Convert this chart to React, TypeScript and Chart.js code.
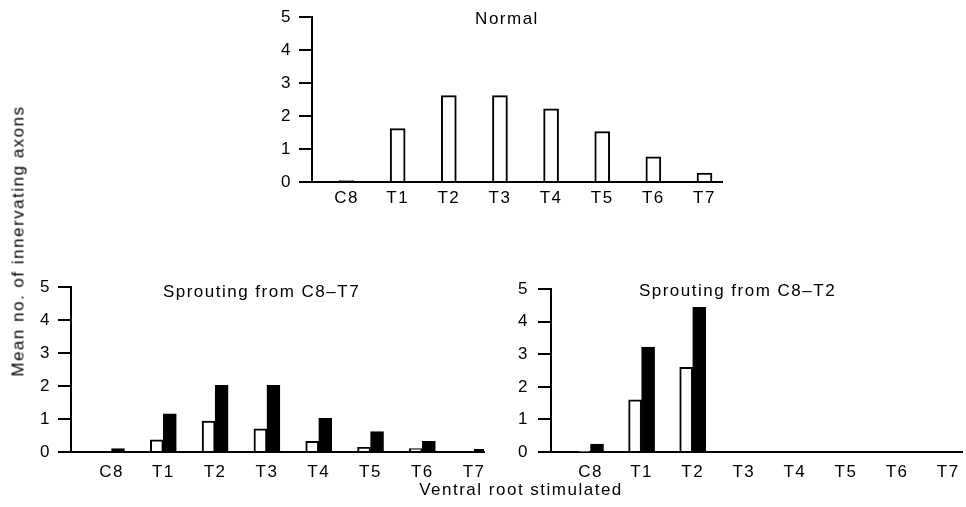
import React, { useEffect, useRef } from 'react';
import { Chart, registerables } from 'chart.js';

Chart.register(...registerables);

// ---------- data ----------
const segments = ['C8', 'T1', 'T2', 'T3', 'T4', 'T5', 'T6', 'T7'];
const yTickValues = [0, 1, 2, 3, 4, 5];

const normalValues = [0.04, 1.62, 2.62, 2.62, 2.22, 1.53, 0.76, 0.27];

const sproutC8T7Open = [0, 0.37, 0.94, 0.7, 0.32, 0.14, 0.1, 0];
const sproutC8T7Filled = [0.1, 1.16, 2.02, 2.02, 1.02, 0.62, 0.32, 0.08];

const sproutC8T2Open = [0.02, 1.6, 2.6, null, null, null, null, null];
const sproutC8T2Filled = [0.24, 3.22, 4.44, null, null, null, null, null];

const panelTitles = ['Normal', 'Sprouting from C8\u2013T7', 'Sprouting from C8\u2013T2'];
const yAxisTitle = 'Mean no. of innervating axons';
const xAxisTitle = 'Ventral root stimulated';

// ---------- styling ----------
const FONT = '"Liberation Sans", Arial, Helvetica, sans-serif';
const FONT_SIZE = 17;
const SPACING = '1.5px';

const spacingPlugin = {
  id: 'letterSpacing',
  beforeUpdate(chart: any) {
    chart.ctx.letterSpacing = SPACING;
  },
  beforeDraw(chart: any) {
    chart.ctx.letterSpacing = SPACING;
  },
};

const panelTitlePlugin = {
  id: 'panelTitle',
  afterDraw(chart: any, _args: any, opts: any) {
    const { ctx, chartArea } = chart;
    ctx.save();
    ctx.letterSpacing = SPACING;
    ctx.font = `${FONT_SIZE}px ${FONT}`;
    ctx.fillStyle = '#000';
    ctx.textAlign = 'center';
    ctx.textBaseline = 'middle';
    ctx.fillText(
      opts.text,
      (chartArea.left + chartArea.right) / 2 + opts.dx,
      chartArea.top + opts.dy
    );
    ctx.restore();
  },
};

type Series = { values: (number | null)[]; fill: string };

type PanelProps = {
  left: number;
  top: number;
  width: number;
  height: number;
  yAxisWidth: number;
  xAxisHeight: number;
  padTop: number;
  padRight: number;
  xMin: number;
  xMax: number;
  barThickness: number;
  series: Series[];
  title: string;
  titleDx: number;
  titleDy: number;
  xLabelPad: number;
  yLabelPad: number;
};

function BarPanel(p: PanelProps) {
  const ref = useRef<HTMLCanvasElement>(null);

  useEffect(() => {
    if (!ref.current) return;
    const chart = new Chart(ref.current, {
      type: 'bar',
      data: {
        datasets: p.series.map((s) => ({
          data: s.values.map((v, i) => ({ x: i, y: v })) as any,
          backgroundColor: s.fill,
          borderColor: '#000',
          borderWidth: 2,
          barThickness: p.barThickness,
        })),
      },
      options: {
        responsive: false,
        animation: false,
        events: [],
        layout: { padding: { top: p.padTop, right: p.padRight, left: 0, bottom: 0 } },
        plugins: {
          legend: { display: false },
          tooltip: { enabled: false },
          title: { display: false },
          panelTitle: { text: p.title, dx: p.titleDx, dy: p.titleDy },
        } as any,
        scales: {
          x: {
            type: 'linear',
            min: p.xMin,
            max: p.xMax,
            offset: false,
            grid: { display: false, offset: false },
            border: { display: true, color: '#000', width: 2 },
            afterBuildTicks: (scale: any) => {
              scale.ticks = segments.map((_, i) => ({ value: i }));
            },
            afterFit: (scale: any) => {
              scale.height = p.xAxisHeight;
            },
            ticks: {
              autoSkip: false,
              maxRotation: 0,
              padding: p.xLabelPad,
              color: '#000',
              font: { family: FONT, size: FONT_SIZE },
              callback: (v: any) => segments[Math.round(Number(v))] ?? '',
            },
          },
          y: {
            min: 0,
            max: 5,
            afterBuildTicks: (scale: any) => {
              scale.ticks = yTickValues.map((v) => ({ value: v }));
            },
            afterFit: (scale: any) => {
              scale.width = p.yAxisWidth;
            },
            grid: {
              display: true,
              drawOnChartArea: false,
              drawTicks: true,
              tickLength: 13,
              lineWidth: 2,
              color: '#000',
            },
            border: { display: true, color: '#000', width: 2 },
            ticks: {
              padding: p.yLabelPad,
              color: '#000',
              font: { family: FONT, size: FONT_SIZE },
              callback: (v: any) => String(v),
            },
          },
        },
      },
      plugins: [spacingPlugin, panelTitlePlugin],
    } as any);
    return () => chart.destroy();
  }, []);

  return (
    <canvas
      ref={ref}
      width={p.width}
      height={p.height}
      style={{
        position: 'absolute',
        left: p.left,
        top: p.top,
        width: p.width,
        height: p.height,
      }}
    />
  );
}

const textStyle: React.CSSProperties = {
  position: 'absolute',
  fontFamily: FONT,
  fontSize: FONT_SIZE,
  lineHeight: '17px',
  letterSpacing: SPACING,
  color: '#000',
  whiteSpace: 'nowrap',
};

export default function App() {
  return (
    <div
      style={{
        position: 'absolute',
        left: 0,
        top: 0,
        width: 966,
        height: 507,
        background: '#fff',
        overflow: 'hidden',
      }}
    >
      <BarPanel
        left={250}
        top={0}
        width={490}
        height={215}
        yAxisWidth={62}
        xAxisHeight={33}
        padTop={14}
        padRight={18}
        xMin={-0.675}
        xMax={7.342}
        barThickness={15}
        series={[{ values: normalValues, fill: '#fff' }]}
        title={panelTitles[0]}
        titleDx={-10}
        titleDy={2}
        xLabelPad={-2}
        yLabelPad={7}
      />
      <BarPanel
        left={0}
        top={270}
        width={490}
        height={215}
        yAxisWidth={71}
        xAxisHeight={33}
        padTop={13}
        padRight={6}
        xMin={-0.782}
        xMax={7.19}
        barThickness={13}
        series={[
          { values: sproutC8T7Open, fill: '#fff' },
          { values: sproutC8T7Filled, fill: '#000' },
        ]}
        title={panelTitles[1]}
        titleDx={-16}
        titleDy={5.5}
        xLabelPad={2}
        yLabelPad={7}
      />
      <BarPanel
        left={490}
        top={270}
        width={476}
        height={215}
        yAxisWidth={61}
        xAxisHeight={33}
        padTop={13}
        padRight={4}
        xMin={-0.773}
        xMax={7.27}
        barThickness={13}
        series={[
          { values: sproutC8T2Open, fill: '#fff' },
          { values: sproutC8T2Filled, fill: '#000' },
        ]}
        title={panelTitles[2]}
        titleDx={-19}
        titleDy={2}
        xLabelPad={2}
        yLabelPad={9}
      />
      <div
        style={{
          ...textStyle,
          left: 18,
          top: 241,
          transform: 'translate(-50%, -50%) rotate(-90deg)',
        }}
      >
        {yAxisTitle}
      </div>
      <div
        style={{
          ...textStyle,
          left: 521,
          top: 481,
          transform: 'translateX(-50%)',
        }}
      >
        {xAxisTitle}
      </div>
    </div>
  );
}
